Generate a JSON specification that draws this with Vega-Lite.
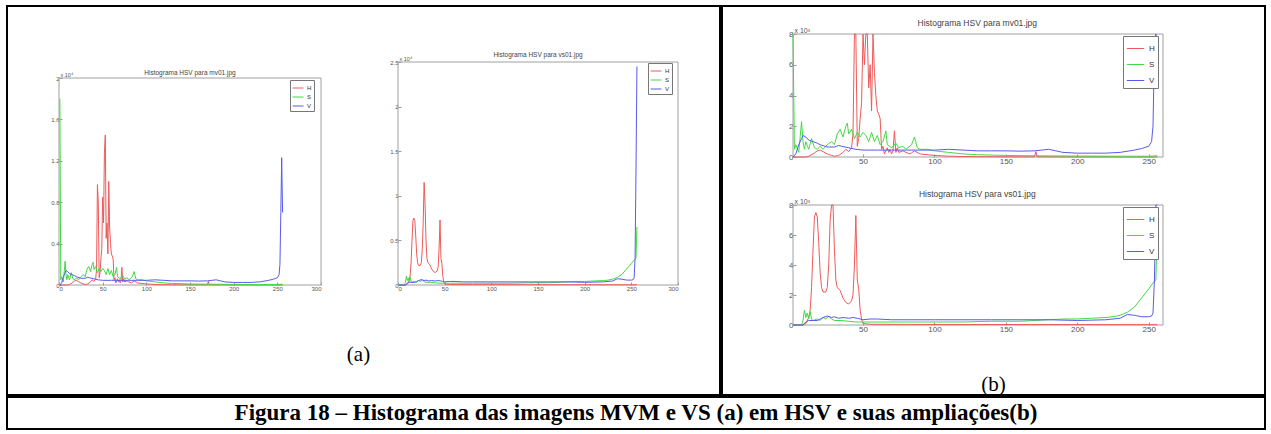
{
"$schema": "https://vega.github.io/schema/vega-lite/v6.json",
"padding": {"left": 6, "top": 5, "right": 5, "bottom": 4},
"background": "white",
"config": {
  "view": {"stroke": "black", "strokeWidth": 2},
  "concat": {"spacing": 0},
  "axis": {"domain": false, "grid": false, "tickColor": "#999", "tickSize": -3, "labelPadding": 3, "labelColor": "#555", "labelFont": "Liberation Sans", "titleFont": "Liberation Sans", "titleFontWeight": "normal", "titleColor": "#555"},
  "legend": {"titleFont": "Liberation Sans", "labelFont": "Liberation Sans"}
},
"datasets": {
  "mv": [
    {"c":"H","x":1,"n":0},{"c":"H","x":10,"n":0},{"c":"H","x":12,"n":50},{"c":"H","x":15,"n":200},{"c":"H","x":18,"n":400},{"c":"H","x":20,"n":450},{"c":"H","x":22,"n":350},{"c":"H","x":25,"n":200},{"c":"H","x":28,"n":100},{"c":"H","x":30,"n":50},{"c":"H","x":33,"n":100},{"c":"H","x":36,"n":300},{"c":"H","x":38,"n":500},{"c":"H","x":40,"n":350},{"c":"H","x":42,"n":600},{"c":"H","x":43,"n":1500},{"c":"H","x":44,"n":9700},{"c":"H","x":45,"n":8000},{"c":"H","x":46,"n":700},{"c":"H","x":47,"n":1200},{"c":"H","x":48,"n":2500},{"c":"H","x":49,"n":3500},{"c":"H","x":50,"n":8500},{"c":"H","x":51,"n":6000},{"c":"H","x":52,"n":12700},{"c":"H","x":53,"n":14500},{"c":"H","x":54,"n":4500},{"c":"H","x":55,"n":6000},{"c":"H","x":56,"n":3000},{"c":"H","x":57,"n":10000},{"c":"H","x":58,"n":5500},{"c":"H","x":59,"n":4000},{"c":"H","x":60,"n":3000},{"c":"H","x":61,"n":2800},{"c":"H","x":62,"n":2500},{"c":"H","x":63,"n":500},{"c":"H","x":64,"n":700},{"c":"H","x":65,"n":200},{"c":"H","x":66,"n":400},{"c":"H","x":67,"n":600},{"c":"H","x":68,"n":300},{"c":"H","x":69,"n":500},{"c":"H","x":70,"n":200},{"c":"H","x":71,"n":400},{"c":"H","x":72,"n":1700},{"c":"H","x":73,"n":300},{"c":"H","x":74,"n":600},{"c":"H","x":75,"n":300},{"c":"H","x":78,"n":400},{"c":"H","x":80,"n":300},{"c":"H","x":83,"n":200},{"c":"H","x":86,"n":400},{"c":"H","x":90,"n":200},{"c":"H","x":95,"n":150},{"c":"H","x":100,"n":100},{"c":"H","x":105,"n":80},{"c":"H","x":110,"n":50},{"c":"H","x":120,"n":30},{"c":"H","x":130,"n":20},{"c":"H","x":150,"n":10},{"c":"H","x":170,"n":10},{"c":"H","x":171,"n":350},{"c":"H","x":172,"n":10},{"c":"H","x":200,"n":5},{"c":"H","x":230,"n":5},{"c":"H","x":256,"n":0},
    {"c":"S","x":1,"n":18000},{"c":"S","x":2,"n":500},{"c":"S","x":3,"n":800},{"c":"S","x":5,"n":300},{"c":"S","x":7,"n":2300},{"c":"S","x":8,"n":1000},{"c":"S","x":9,"n":500},{"c":"S","x":10,"n":1000},{"c":"S","x":12,"n":500},{"c":"S","x":14,"n":1200},{"c":"S","x":16,"n":600},{"c":"S","x":18,"n":500},{"c":"S","x":20,"n":700},{"c":"S","x":22,"n":500},{"c":"S","x":25,"n":800},{"c":"S","x":28,"n":1000},{"c":"S","x":30,"n":800},{"c":"S","x":32,"n":1500},{"c":"S","x":34,"n":1800},{"c":"S","x":36,"n":1300},{"c":"S","x":38,"n":2000},{"c":"S","x":39,"n":2200},{"c":"S","x":40,"n":1500},{"c":"S","x":42,"n":1800},{"c":"S","x":44,"n":1200},{"c":"S","x":46,"n":1600},{"c":"S","x":48,"n":1300},{"c":"S","x":50,"n":1600},{"c":"S","x":52,"n":1400},{"c":"S","x":54,"n":1000},{"c":"S","x":56,"n":1600},{"c":"S","x":58,"n":1000},{"c":"S","x":60,"n":1400},{"c":"S","x":62,"n":800},{"c":"S","x":64,"n":1000},{"c":"S","x":66,"n":1700},{"c":"S","x":67,"n":800},{"c":"S","x":70,"n":600},{"c":"S","x":73,"n":900},{"c":"S","x":75,"n":600},{"c":"S","x":78,"n":700},{"c":"S","x":80,"n":500},{"c":"S","x":84,"n":800},{"c":"S","x":86,"n":1300},{"c":"S","x":88,"n":600},{"c":"S","x":90,"n":500},{"c":"S","x":95,"n":500},{"c":"S","x":100,"n":400},{"c":"S","x":105,"n":350},{"c":"S","x":110,"n":300},{"c":"S","x":120,"n":200},{"c":"S","x":130,"n":150},{"c":"S","x":150,"n":100},{"c":"S","x":170,"n":80},{"c":"S","x":200,"n":60},{"c":"S","x":230,"n":50},{"c":"S","x":250,"n":50},{"c":"S","x":256,"n":80},
    {"c":"V","x":1,"n":0},{"c":"V","x":3,"n":200},{"c":"V","x":5,"n":800},{"c":"V","x":7,"n":1200},{"c":"V","x":8,"n":1400},{"c":"V","x":10,"n":1300},{"c":"V","x":12,"n":1100},{"c":"V","x":15,"n":1000},{"c":"V","x":18,"n":900},{"c":"V","x":20,"n":800},{"c":"V","x":25,"n":650},{"c":"V","x":30,"n":650},{"c":"V","x":33,"n":750},{"c":"V","x":35,"n":700},{"c":"V","x":40,"n":600},{"c":"V","x":45,"n":500},{"c":"V","x":50,"n":450},{"c":"V","x":60,"n":450},{"c":"V","x":70,"n":450},{"c":"V","x":80,"n":450},{"c":"V","x":90,"n":450},{"c":"V","x":100,"n":450},{"c":"V","x":110,"n":500},{"c":"V","x":120,"n":450},{"c":"V","x":130,"n":400},{"c":"V","x":140,"n":400},{"c":"V","x":150,"n":400},{"c":"V","x":160,"n":380},{"c":"V","x":170,"n":400},{"c":"V","x":175,"n":450},{"c":"V","x":180,"n":500},{"c":"V","x":185,"n":400},{"c":"V","x":190,"n":300},{"c":"V","x":200,"n":250},{"c":"V","x":210,"n":250},{"c":"V","x":220,"n":250},{"c":"V","x":230,"n":300},{"c":"V","x":240,"n":450},{"c":"V","x":245,"n":550},{"c":"V","x":250,"n":700},{"c":"V","x":252,"n":1000},{"c":"V","x":253,"n":2000},{"c":"V","x":254,"n":7000},{"c":"V","x":255,"n":12300},{"c":"V","x":256,"n":7000}
  ],
  "vs": [
    {"c":"H","x":1,"n":0},{"c":"H","x":8,"n":0},{"c":"H","x":10,"n":100},{"c":"H","x":12,"n":500},{"c":"H","x":13,"n":1000},{"c":"H","x":14,"n":2500},{"c":"H","x":15,"n":5000},{"c":"H","x":16,"n":7200},{"c":"H","x":17,"n":7500},{"c":"H","x":18,"n":7200},{"c":"H","x":19,"n":5500},{"c":"H","x":20,"n":3500},{"c":"H","x":21,"n":2500},{"c":"H","x":22,"n":2200},{"c":"H","x":24,"n":2200},{"c":"H","x":25,"n":2500},{"c":"H","x":26,"n":4000},{"c":"H","x":27,"n":7000},{"c":"H","x":28,"n":11500},{"c":"H","x":29,"n":9000},{"c":"H","x":30,"n":5000},{"c":"H","x":31,"n":3000},{"c":"H","x":32,"n":2500},{"c":"H","x":34,"n":2300},{"c":"H","x":36,"n":1800},{"c":"H","x":38,"n":1500},{"c":"H","x":40,"n":1400},{"c":"H","x":42,"n":1600},{"c":"H","x":43,"n":2000},{"c":"H","x":44,"n":4000},{"c":"H","x":45,"n":7300},{"c":"H","x":46,"n":3000},{"c":"H","x":47,"n":2400},{"c":"H","x":48,"n":1000},{"c":"H","x":49,"n":400},{"c":"H","x":50,"n":100},{"c":"H","x":55,"n":50},{"c":"H","x":80,"n":40},{"c":"H","x":120,"n":30},{"c":"H","x":180,"n":30},{"c":"H","x":256,"n":20},
    {"c":"S","x":1,"n":0},{"c":"S","x":7,"n":0},{"c":"S","x":8,"n":300},{"c":"S","x":9,"n":1000},{"c":"S","x":10,"n":500},{"c":"S","x":11,"n":800},{"c":"S","x":12,"n":400},{"c":"S","x":13,"n":900},{"c":"S","x":14,"n":400},{"c":"S","x":15,"n":300},{"c":"S","x":18,"n":400},{"c":"S","x":20,"n":300},{"c":"S","x":22,"n":500},{"c":"S","x":24,"n":400},{"c":"S","x":26,"n":600},{"c":"S","x":28,"n":400},{"c":"S","x":30,"n":300},{"c":"S","x":35,"n":300},{"c":"S","x":40,"n":250},{"c":"S","x":45,"n":200},{"c":"S","x":50,"n":200},{"c":"S","x":60,"n":200},{"c":"S","x":80,"n":200},{"c":"S","x":100,"n":200},{"c":"S","x":120,"n":200},{"c":"S","x":140,"n":250},{"c":"S","x":160,"n":250},{"c":"S","x":180,"n":350},{"c":"S","x":190,"n":400},{"c":"S","x":200,"n":400},{"c":"S","x":210,"n":450},{"c":"S","x":220,"n":500},{"c":"S","x":225,"n":550},{"c":"S","x":230,"n":650},{"c":"S","x":235,"n":850},{"c":"S","x":240,"n":1200},{"c":"S","x":245,"n":1800},{"c":"S","x":250,"n":2400},{"c":"S","x":253,"n":2800},{"c":"S","x":255,"n":3000},{"c":"S","x":256,"n":6500},
    {"c":"V","x":1,"n":0},{"c":"V","x":8,"n":0},{"c":"V","x":10,"n":200},{"c":"V","x":12,"n":300},{"c":"V","x":15,"n":300},{"c":"V","x":18,"n":300},{"c":"V","x":20,"n":400},{"c":"V","x":22,"n":500},{"c":"V","x":25,"n":600},{"c":"V","x":28,"n":500},{"c":"V","x":30,"n":550},{"c":"V","x":33,"n":450},{"c":"V","x":36,"n":500},{"c":"V","x":40,"n":450},{"c":"V","x":43,"n":500},{"c":"V","x":46,"n":450},{"c":"V","x":48,"n":400},{"c":"V","x":50,"n":350},{"c":"V","x":55,"n":400},{"c":"V","x":60,"n":400},{"c":"V","x":70,"n":350},{"c":"V","x":80,"n":350},{"c":"V","x":100,"n":350},{"c":"V","x":120,"n":350},{"c":"V","x":140,"n":350},{"c":"V","x":160,"n":350},{"c":"V","x":180,"n":350},{"c":"V","x":200,"n":300},{"c":"V","x":220,"n":350},{"c":"V","x":230,"n":450},{"c":"V","x":235,"n":700},{"c":"V","x":240,"n":650},{"c":"V","x":245,"n":550},{"c":"V","x":250,"n":550},{"c":"V","x":252,"n":600},{"c":"V","x":253,"n":800},{"c":"V","x":254,"n":3000},{"c":"V","x":255,"n":13000},{"c":"V","x":256,"n":24500}
  ]
},
"resolve": {"legend": {"color": "independent", "stroke": "independent"}},
"vconcat": [
  {
    "resolve": {"legend": {"color": "independent", "stroke": "independent"}},
    "hconcat": [
      {
        "width": 713, "height": 389,
        "title": {"text": "(a)", "orient": "bottom", "frame": "group", "offset": -51, "dx": -5, "font": "Liberation Serif", "fontSize": 21, "fontWeight": "normal", "color": "black", "anchor": "middle"},
        "resolve": {"scale": {"x": "independent", "y": "independent"}, "axis": {"x": "independent", "y": "independent"}, "legend": {"color": "independent"}},
        "layer": [
          {
            "data": {"name": "mv"},
            "layer": [
              {"data": {"values": [{}]}, "mark": {"type": "rect", "fillOpacity": 0, "stroke": "#a0a0a0", "strokeWidth": 1}, "encoding": {"x": {"datum": 0}, "x2": {"datum": 300}, "y": {"datum": 0}, "y2": {"datum": 20000}}},
              {
                "mark": {"type": "line", "strokeWidth": 1},
                "encoding": {
                  "x": {"field": "x", "type": "quantitative", "scale": {"domain": [0, 300], "range": [52, 314], "nice": false, "zero": false}, "axis": {"orient": "bottom", "offset": -110, "values": [0,50,100,150,200,250,300], "title": null, "labelFontSize": 6}},
                  "y": {"field": "n", "type": "quantitative", "scale": {"domain": [0, 20000], "range": [279, 72], "nice": false}, "axis": {"orient": "left", "offset": -52, "values": [0,2000,4000,6000,8000,10000,12000,14000,16000,18000,20000], "labelExpr": "datum.value/10000", "labelFontSize": 6, "title": "x 10⁴", "titleFontSize": 5.5, "titleAngle": 0, "titleX": 1, "titleY": 71, "titleAlign": "left", "titleBaseline": "bottom"}},
                  "color": {"field": "c", "type": "nominal", "scale": {"domain": ["H","S","V"], "range": ["#ee5a5a","#44d944","#5a5aee"]}, "legend": {"title": null, "orient": "none", "legendX": 283, "legendY": 74, "strokeColor": "#777", "fillColor": "white", "padding": 2, "symbolType": "stroke", "symbolSize": 120, "symbolStrokeWidth": 1, "labelFontSize": 6, "labelColor": "#333", "rowPadding": 0, "labelOffset": 3}}
                }
              },
              {"data": {"values": [{}]}, "mark": {"type": "text", "text": "Histograma HSV para mv01.jpg", "font": "Liberation Sans", "fontSize": 6.5, "color": "#444", "baseline": "bottom", "dy": -2}, "encoding": {"x": {"datum": 150}, "y": {"datum": 20000}}}
            ]
          },
          {
            "data": {"name": "vs"},
            "layer": [
              {"data": {"values": [{}]}, "mark": {"type": "rect", "fillOpacity": 0, "stroke": "#a0a0a0", "strokeWidth": 1}, "encoding": {"x": {"datum": 0}, "x2": {"datum": 300}, "y": {"datum": 0}, "y2": {"datum": 25000}}},
              {
                "mark": {"type": "line", "strokeWidth": 1},
                "encoding": {
                  "x": {"field": "x", "type": "quantitative", "scale": {"domain": [0, 300], "range": [391, 671], "nice": false, "zero": false}, "axis": {"orient": "bottom", "offset": -110, "values": [0,50,100,150,200,250,300], "title": null, "labelFontSize": 6}},
                  "y": {"field": "n", "type": "quantitative", "scale": {"domain": [0, 25000], "range": [279, 56], "nice": false}, "axis": {"orient": "left", "offset": -391, "values": [0,5000,10000,15000,20000,25000], "labelExpr": "datum.value/10000", "labelFontSize": 6, "title": "x 10⁴", "titleFontSize": 5.5, "titleAngle": 0, "titleX": 1, "titleY": 55, "titleAlign": "left", "titleBaseline": "bottom"}},
                  "color": {"field": "c", "type": "nominal", "legend": {"title": null, "orient": "none", "legendX": 641, "legendY": 57, "strokeColor": "#777", "fillColor": "white", "padding": 2, "symbolType": "stroke", "symbolSize": 120, "symbolStrokeWidth": 1, "labelFontSize": 6, "labelColor": "#333", "rowPadding": 0, "labelOffset": 3}}
                }
              },
              {"data": {"values": [{}]}, "mark": {"type": "text", "text": "Histograma HSV para vs01.jpg", "font": "Liberation Sans", "fontSize": 6.5, "color": "#444", "baseline": "bottom", "dy": -4}, "encoding": {"x": {"datum": 150}, "y": {"datum": 25000}}}
            ]
          }
        ]
      },
      {
        "width": 543, "height": 389,
        "title": {"text": "(b)", "orient": "bottom", "frame": "group", "offset": -21, "dx": 0, "font": "Liberation Serif", "fontSize": 21, "fontWeight": "normal", "color": "black", "anchor": "middle"},
        "resolve": {"scale": {"x": "independent", "y": "independent"}, "axis": {"x": "independent", "y": "independent"}, "legend": {"color": "independent", "stroke": "independent"}},
        "layer": [
          {
            "data": {"name": "mv"},
            "layer": [
              {"data": {"values": [{}]}, "mark": {"type": "rect", "fillOpacity": 0, "stroke": "#a0a0a0", "strokeWidth": 1}, "encoding": {"x": {"datum": 1}, "x2": {"datum": 260}, "y": {"datum": 0}, "y2": {"datum": 8000}}},
              {
                "mark": {"type": "line", "strokeWidth": 1},
                "encoding": {
                  "x": {"field": "x", "type": "quantitative", "scale": {"domain": [1, 260], "range": [71, 441], "nice": false, "zero": false}, "axis": {"orient": "bottom", "offset": -238, "values": [50,100,150,200,250], "title": null, "labelFontSize": 8}},
                  "y": {"field": "n", "type": "quantitative", "scale": {"domain": [0, 8000], "range": [151, 28], "nice": false, "clamp": true}, "axis": {"orient": "left", "offset": -71, "values": [0,2000,4000,6000,8000], "labelExpr": "datum.value/1000", "labelFontSize": 8, "title": "x 10³", "titleFontSize": 7, "titleAngle": 0, "titleX": 1, "titleY": 27, "titleAlign": "left", "titleBaseline": "bottom"}},
                  "color": {"field": "c", "type": "nominal", "legend": {"title": null, "orient": "none", "legendX": 401, "legendY": 30, "strokeColor": "#777", "fillColor": "white", "padding": 3, "symbolType": "stroke", "symbolSize": 300, "symbolStrokeWidth": 1, "labelFontSize": 8, "labelColor": "#333", "rowPadding": 2, "labelOffset": 4}}
                }
              },
              {"data": {"values": [{}]}, "mark": {"type": "text", "text": "Histograma HSV para mv01.jpg", "font": "Liberation Sans", "fontSize": 8.5, "color": "#444", "baseline": "bottom", "dy": -6}, "encoding": {"x": {"datum": 130}, "y": {"datum": 8000}}}
            ]
          },
          {
            "data": {"name": "vs"},
            "layer": [
              {"data": {"values": [{}]}, "mark": {"type": "rect", "fillOpacity": 0, "stroke": "#a0a0a0", "strokeWidth": 1}, "encoding": {"x": {"datum": 1}, "x2": {"datum": 260}, "y": {"datum": 0}, "y2": {"datum": 8000}}},
              {
                "mark": {"type": "line", "strokeWidth": 1},
                "encoding": {
                  "x": {"field": "x", "type": "quantitative", "scale": {"domain": [1, 260], "range": [71, 441], "nice": false, "zero": false}, "axis": {"orient": "bottom", "offset": -70, "values": [50,100,150,200,250], "title": null, "labelFontSize": 8}},
                  "y": {"field": "n", "type": "quantitative", "scale": {"domain": [0, 8000], "range": [319, 199], "nice": false, "clamp": true}, "axis": {"orient": "left", "offset": -71, "values": [0,2000,4000,6000,8000], "labelExpr": "datum.value/1000", "labelFontSize": 8, "title": "x 10³", "titleFontSize": 7, "titleAngle": 0, "titleX": 1, "titleY": 198, "titleAlign": "left", "titleBaseline": "bottom"}},
                  "stroke": {"field": "c", "type": "nominal", "scale": {"domain": ["H","S","V"], "range": ["#ee5a5a","#44d944","#5a5aee"]}, "legend": {"title": null, "orient": "none", "legendX": 401, "legendY": 201, "strokeColor": "#777", "fillColor": "white", "padding": 3, "symbolType": "stroke", "symbolSize": 300, "symbolStrokeWidth": 1, "labelFontSize": 8, "labelColor": "#333", "rowPadding": 2, "labelOffset": 4}}
                }
              },
              {"data": {"values": [{}]}, "mark": {"type": "text", "text": "Histograma HSV para vs01.jpg", "font": "Liberation Sans", "fontSize": 8.5, "color": "#444", "baseline": "bottom", "dy": -6}, "encoding": {"x": {"datum": 130}, "y": {"datum": 8000}}}
            ]
          }
        ]
      }
    ]
  },
  {
    "width": 1258, "height": 32,
    "data": {"values": [{"t": "Figura  18 – Histograma das imagens MVM e VS (a) em HSV e suas ampliações(b)"}]},
    "mark": {"type": "text", "font": "Liberation Serif", "fontSize": 23, "fontWeight": "bold", "color": "black"},
    "encoding": {
      "text": {"field": "t"},
      "x": {"datum": 0, "type": "quantitative", "scale": {"domain": [-1, 1]}, "axis": null},
      "y": {"datum": 0, "type": "quantitative", "scale": {"domain": [-1, 1]}, "axis": null}
    }
  }
]
}
